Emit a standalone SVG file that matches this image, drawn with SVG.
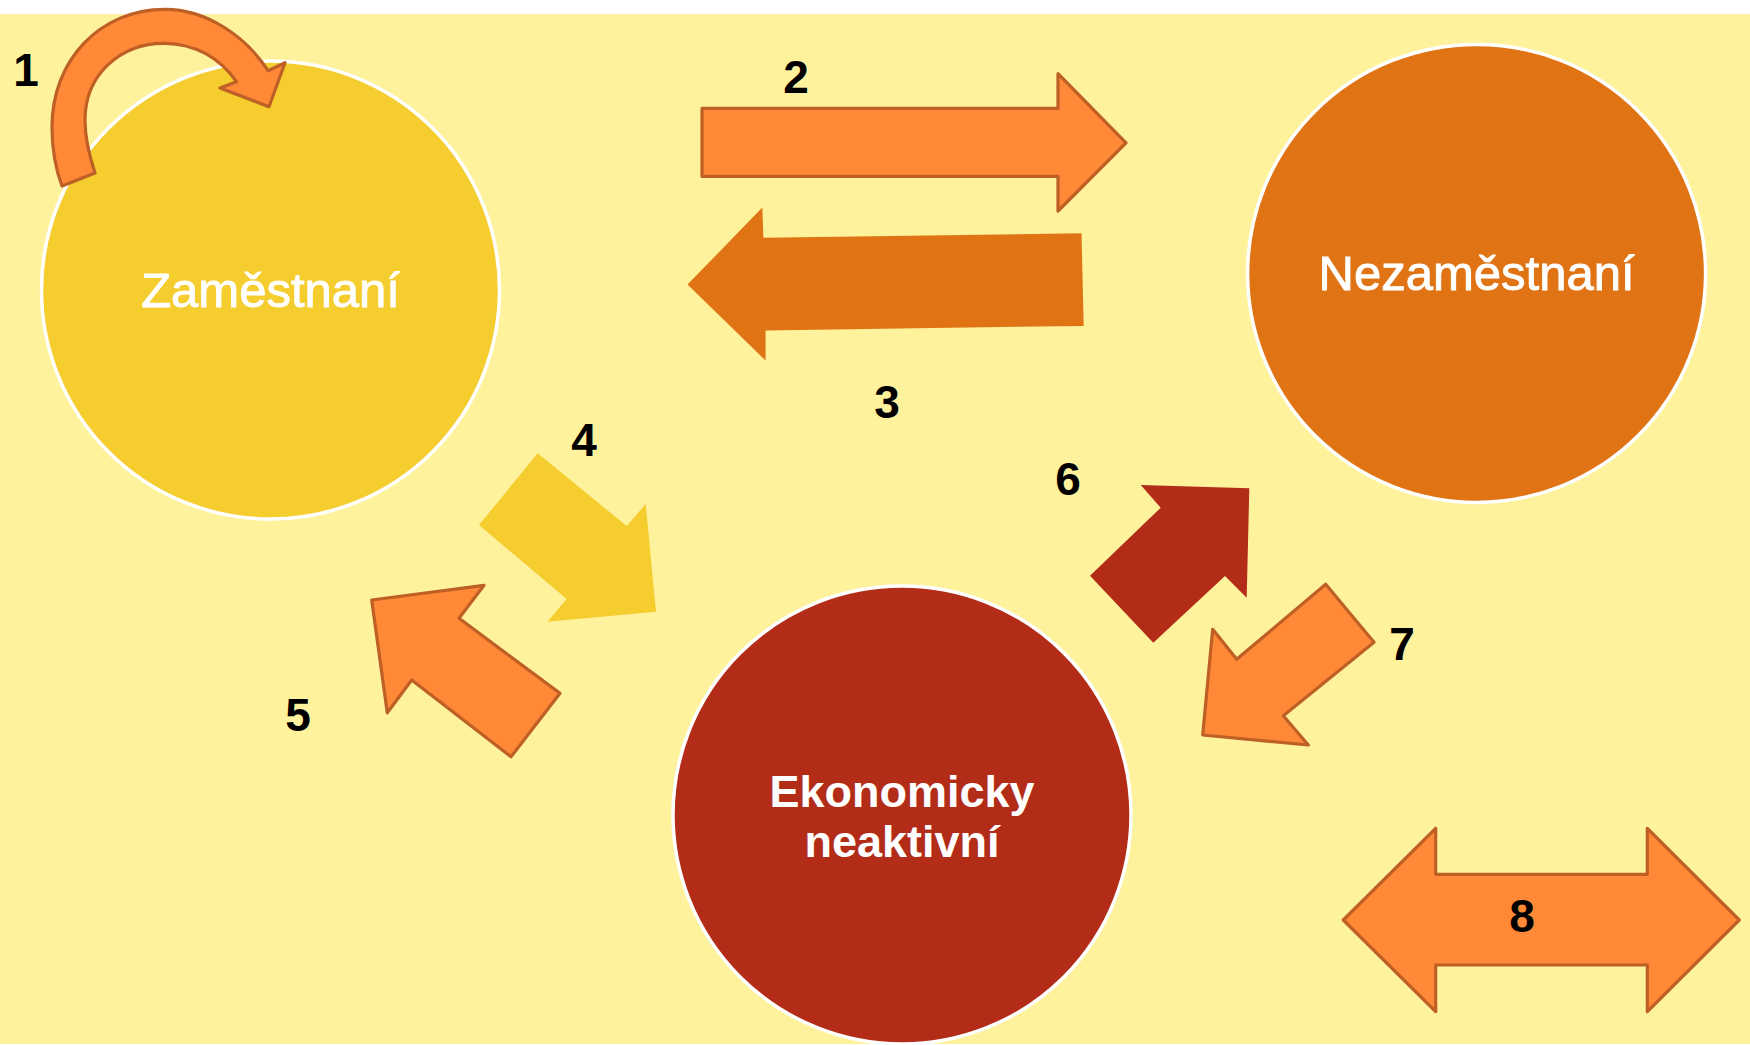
<svg xmlns="http://www.w3.org/2000/svg" width="1750" height="1045" viewBox="0 0 1750 1045">
  <defs>
    <style>
      .node { stroke: #FFFFFF; stroke-width: 3.5; }
      .lbl { font-family: "Liberation Sans", Arial, sans-serif; fill: #FFFFFF; text-anchor: middle; }
      .reg { stroke: #FFFFFF; stroke-width: 0.9; }
      .num { font-family: "Liberation Sans", Arial, sans-serif; font-weight: bold; font-size: 46px; fill: #000000; text-anchor: middle; }
      .arr-o { fill: #FF8936; stroke: #BE5F26; stroke-width: 3.2; stroke-linejoin: round; }
      .arr-d { fill: #E07415; }
      .arr-y { fill: #F5CD2F; }
      .arr-r { fill: #B22C18; }
    </style>
  </defs>
  <rect x="0" y="0" width="1750" height="1045" fill="#FFFFFF"/>
  <rect x="0" y="14" width="1750" height="1030" fill="#FFF29D"/>

  <g id="node-zamestnani">
    <circle class="node" cx="270.5" cy="290" r="229" fill="#F5CD2F"/>
    <text class="lbl reg" x="270.5" y="307" font-size="49">Zaměstnaní</text>
  </g>
  <g id="node-nezamestnani">
    <circle class="node" cx="1476.6" cy="273.4" r="229" fill="#E07415"/>
    <text class="lbl reg" x="1476.6" y="290" font-size="49">Nezaměstnaní</text>
  </g>
  <g id="node-neaktivni">
    <circle class="node" cx="902" cy="815" r="229" fill="#B22C18"/>
    <text class="lbl" x="902" y="807" font-size="45" font-weight="bold">Ekonomicky</text>
    <text class="lbl" x="902" y="857" font-size="45" font-weight="bold">neaktivní</text>
  </g>

  <g id="connectors">
    <path id="arrow-1" class="arr-o" d="M 62,186 L 95,173 C 89,155 85,138 85,120 C 85,75 120,43 164.6,43.3 C 195,43.5 220,58 236.5,81.7 L 220,88 L 269,106.7 L 285,62.7 L 268,70.7 C 245,35 205,9 164.6,9.3 C 100,9.5 52,60 52,127 C 52,150 56,170 62,186 Z"/>
    <polygon id="arrow-2" class="arr-o" points="702,108.3 1058,108.3 1058,73.7 1126,142.9 1058,211 1058,176.3 702,176.3"/>
    <polygon id="arrow-3" class="arr-d" points="687.5,284.6 762.3,207.6 763.4,237.7 1081.5,233.3 1083.7,325.9 765.6,330.4 765.6,360.5"/>
    <polygon id="arrow-4" class="arr-y" points="537.7,453.3 626.7,526 645.7,504 656,611.7 547.3,621.7 566.7,599 479,525"/>
    <polygon id="arrow-5" class="arr-o" points="371.7,600 484,585.3 459,618.3 560,693.3 511,756.7 411.7,680 387.3,712.7"/>
    <polygon id="arrow-6" class="arr-r" points="1140.7,485 1249.3,488.3 1246.7,597.7 1225,576 1153.3,642.7 1090,575.7 1160.7,507.7"/>
    <polygon id="arrow-7" class="arr-o" points="1325.7,584.3 1374,642.3 1283.3,715.7 1308.3,745 1202.7,735 1212.7,629.3 1236.7,659.3"/>
    <polygon id="arrow-8" class="arr-o" points="1343.3,920 1435.7,828.3 1435.7,874.3 1647.3,874.3 1647.3,828.3 1739.3,920 1647.3,1011.7 1647.3,965 1435.7,965 1435.7,1011.7"/>
  </g>

  <g id="labels">
    <text class="num" x="26" y="86">1</text>
    <text class="num" x="796" y="93">2</text>
    <text class="num" x="887" y="418">3</text>
    <text class="num" x="584" y="456">4</text>
    <text class="num" x="298" y="731">5</text>
    <text class="num" x="1068" y="495">6</text>
    <text class="num" x="1402" y="660">7</text>
    <text class="num" x="1522" y="932">8</text>
  </g>
</svg>
